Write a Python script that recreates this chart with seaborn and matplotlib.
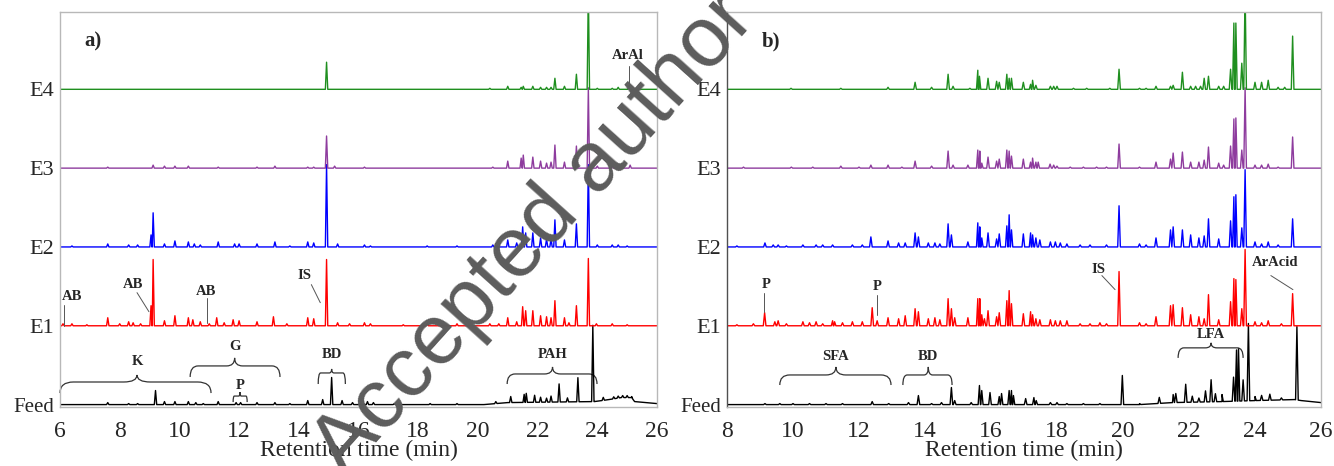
import numpy as np
import pandas as pd
import matplotlib
matplotlib.use("Agg")
import matplotlib.pyplot as plt
from matplotlib.path import Path
from matplotlib.patches import PathPatch
import seaborn as sns

# ---------------------------------------------------------------- data
trace_names = ["Feed", "E1", "E2", "E3", "E4"]
trace_colors = ["#000000", "#ff0000", "#0000ff", "#8e3c9e", "#1f8f1f"]

a_xticks = [6, 8, 10, 12, 14, 16, 18, 20, 22, 24, 26]
b_xticks = [8, 10, 12, 14, 16, 18, 20, 22, 24, 26]

# peaks: (retention time [min], height [a.u.]); one offset step = 78.5 a.u.
a_feed = [(7.6, 2), (8.3, 1), (8.6, 1), (9.2, 14), (9.5, 3), (9.85, 3), (10.3, 3), (10.55, 2),
          (10.8, 1), (11.3, 3), (11.9, 2), (12.05, 2), (12.6, 2), (13.2, 2), (13.7, 1), (14.3, 4),
          (14.8, 5), (15.1, 27), (15.45, 4), (15.8, 2), (16.3, 3), (16.5, 2), (17.2, 1), (18.4, 1),
          (19.3, 1), (20.6, 2), (21.1, 6), (21.55, 8), (21.62, 9), (21.9, 7), (22.1, 5), (22.3, 4),
          (22.45, 6), (22.72, 18), (23.0, 4), (23.35, 24), (23.85, 76), (24.2, 3), (24.55, 2),
          (24.7, 2), (24.85, 2), (25.0, 2), (25.15, 1)]
a_feed_base = [(6, 0), (20.2, 0), (21.0, 2), (23.9, 3), (24.4, 5), (24.8, 7), (25.15, 7),
               (25.25, 3), (26, 1)]
a_e1 = [(6.1, 2), (6.4, 2), (6.9, 1), (7.6, 8), (8.0, 2), (8.3, 4), (8.45, 3), (8.7, 2), (9.05, 20),
        (9.12, 66), (9.5, 5), (9.85, 10), (10.3, 8), (10.45, 6), (10.7, 4), (11.0, 2), (11.25, 8),
        (11.5, 3), (11.8, 6), (12.0, 5), (12.6, 4), (13.15, 9), (13.6, 2), (14.3, 8), (14.5, 7),
        (14.93, 66), (15.3, 3), (15.7, 2), (16.2, 3), (16.4, 2), (17.5, 1), (18.3, 2), (19.3, 2),
        (20.4, 2), (20.7, 2), (21.0, 8), (21.3, 4), (21.5, 19), (21.6, 15), (21.84, 15), (22.1, 10),
        (22.3, 9), (22.45, 8), (22.58, 25), (22.9, 8), (23.05, 3), (23.3, 20), (23.7, 67),
        (23.97, 2), (24.5, 2), (25.0, 1)]
a_e2 = [(6.4, 1), (7.6, 3), (8.3, 2), (8.6, 2), (9.05, 12), (9.12, 34), (9.5, 3), (9.85, 6),
        (10.3, 5), (10.5, 3), (10.7, 2), (11.3, 5), (11.85, 3), (12.0, 3), (12.6, 3), (13.2, 5),
        (13.7, 1), (14.3, 5), (14.5, 4), (14.93, 82), (15.3, 3), (16.2, 2), (16.4, 1), (18.3, 1),
        (19.3, 1), (20.5, 2), (21.0, 7), (21.3, 4), (21.5, 20), (21.6, 14), (21.84, 14), (22.1, 9),
        (22.3, 8), (22.45, 8), (22.58, 27), (22.9, 7), (23.3, 23), (23.7, 82), (24.0, 2),
        (24.5, 2), (24.7, 2), (25.0, 1)]
a_e3 = [(7.6, 1), (9.12, 3), (9.5, 2), (9.85, 2), (10.3, 2), (11.3, 1), (12.6, 1), (13.2, 2),
        (14.3, 1), (14.5, 1), (14.93, 32), (15.2, 2), (16.2, 1), (20.5, 1), (21.0, 7), (21.45, 10),
        (21.52, 13), (21.84, 11), (22.1, 7), (22.3, 5), (22.45, 6), (22.58, 23), (22.9, 6),
        (23.3, 22), (23.7, 80), (24.0, 2), (24.5, 2), (25.1, 3)]
a_e4 = [(14.93, 27), (20.4, 1), (21.0, 3), (21.45, 2), (21.52, 3), (21.84, 3), (22.1, 2), (22.3, 2),
        (22.45, 2), (22.58, 11), (22.9, 3), (23.3, 15), (23.7, 100), (24.0, 1), (24.5, 1),
        (24.7, 2), (25.06, 3)]

b_feed = [(9.15, 1), (9.6, 1), (10.0, 1), (10.5, 1), (11.0, 1), (11.5, 1), (12.4, 3), (12.9, 1),
          (13.5, 2), (13.8, 9), (14.2, 1), (14.5, 2), (14.8, 17), (14.9, 4), (15.4, 2), (15.65, 19),
          (15.72, 14), (15.97, 12), (16.25, 8), (16.32, 11), (16.55, 14), (16.62, 14), (16.68, 9),
          (17.05, 6), (17.3, 7), (17.37, 4), (17.8, 2), (18.0, 2), (18.3, 1), (18.8, 1), (19.3, 1),
          (19.98, 29), (20.5, 1), (21.1, 6), (21.52, 8), (21.6, 9), (21.9, 18), (22.1, 6),
          (22.3, 4), (22.5, 11), (22.67, 22), (22.8, 8), (23.0, 7), (23.35, 24), (23.44, 51),
          (23.5, 52), (23.64, 21), (23.8, 77), (24.0, 4), (24.2, 5), (24.45, 6), (24.8, 2),
          (25.27, 73)]
b_feed_base = [(8, 0), (20.5, 0), (21.5, 2), (23.0, 3), (24.0, 4), (25.2, 5), (25.4, 4), (26, 2)]
b_e1 = [(8.3, 1), (8.8, 2), (9.14, 13), (9.45, 4), (9.55, 5), (9.8, 2), (10.3, 4), (10.5, 3),
        (10.7, 4), (10.9, 2), (11.2, 5), (11.26, 4), (11.5, 3), (11.8, 4), (12.1, 4), (12.4, 18),
        (12.55, 5), (12.88, 8), (13.2, 7), (13.4, 10), (13.7, 17), (13.8, 14), (14.1, 7), (14.3, 8),
        (14.45, 6), (14.7, 27), (14.8, 17), (14.9, 8), (15.3, 8), (15.6, 27), (15.66, 27),
        (15.72, 11), (15.8, 7), (15.91, 15), (16.17, 9), (16.25, 13), (16.48, 25), (16.55, 35),
        (16.62, 22), (16.98, 12), (17.2, 14), (17.26, 11), (17.36, 7), (17.48, 6), (17.8, 6),
        (17.95, 5), (18.1, 5), (18.3, 5), (18.7, 2), (19.0, 2), (19.3, 3), (19.5, 2), (19.88, 54),
        (20.5, 3), (20.7, 2), (21.0, 9), (21.44, 20), (21.52, 21), (21.8, 18), (22.05, 11),
        (22.3, 9), (22.46, 7), (22.59, 31), (22.9, 6), (23.26, 24), (23.36, 47), (23.42, 46),
        (23.6, 17), (23.7, 76), (24.0, 4), (24.2, 3), (24.4, 5), (24.8, 2), (25.14, 32)]
b_e2 = [(8.3, 1), (9.15, 4), (9.4, 2), (9.55, 2), (9.8, 1), (10.3, 2), (10.7, 2), (10.9, 2),
        (11.2, 2), (11.8, 2), (12.1, 2), (12.36, 10), (12.88, 6), (13.2, 4), (13.4, 4), (13.7, 14),
        (13.8, 10), (14.1, 4), (14.3, 4), (14.45, 3), (14.7, 23), (14.8, 12), (15.3, 5), (15.6, 24),
        (15.66, 20), (15.72, 9), (15.91, 14), (16.17, 8), (16.25, 13), (16.48, 21), (16.55, 32),
        (16.62, 17), (16.98, 13), (17.2, 14), (17.26, 12), (17.36, 9), (17.48, 7), (17.8, 5),
        (17.95, 5), (18.1, 4), (18.3, 3), (18.7, 2), (19.0, 2), (19.5, 2), (19.88, 41), (20.5, 3),
        (20.7, 2), (21.0, 9), (21.44, 17), (21.52, 20), (21.8, 17), (22.05, 12), (22.3, 9),
        (22.46, 11), (22.59, 28), (22.9, 8), (23.26, 26), (23.36, 50), (23.42, 52), (23.6, 19),
        (23.7, 77), (24.0, 5), (24.2, 3), (24.4, 5), (24.7, 2), (25.14, 28)]
b_e3 = [(8.5, 1), (9.95, 1), (10.6, 1), (11.45, 2), (12.0, 1), (12.36, 3), (12.88, 3), (13.3, 1),
        (13.7, 7), (14.2, 2), (14.7, 17), (14.85, 3), (15.3, 3), (15.6, 18), (15.66, 17),
        (15.72, 5), (15.91, 11), (16.17, 7), (16.25, 9), (16.48, 18), (16.55, 17), (16.62, 12),
        (16.98, 9), (17.2, 6), (17.26, 10), (17.36, 6), (17.43, 6), (17.79, 4), (17.9, 3),
        (18.0, 2), (18.4, 1), (18.8, 1), (19.2, 1), (19.5, 1), (19.88, 24), (20.5, 1), (21.0, 6),
        (21.44, 9), (21.52, 15), (21.8, 16), (22.05, 6), (22.3, 6), (22.46, 8), (22.59, 21),
        (22.9, 5), (23.05, 3), (23.26, 22), (23.36, 49), (23.42, 50), (23.6, 18), (23.7, 80),
        (24.0, 3), (24.2, 3), (24.4, 4), (24.7, 1), (25.14, 31)]
b_e4 = [(9.94, 1), (11.45, 1), (12.88, 2), (13.7, 7), (14.2, 2), (14.7, 15), (14.85, 3),
        (15.36, 1), (15.6, 19), (15.65, 13), (15.91, 11), (16.17, 8), (16.25, 7), (16.48, 15),
        (16.55, 11), (16.62, 11), (16.98, 7), (17.2, 5), (17.26, 9), (17.36, 4), (17.8, 3),
        (17.9, 3), (18.0, 3), (18.5, 1), (18.9, 1), (19.6, 1), (19.88, 20), (20.5, 1), (20.7, 1),
        (21.0, 3), (21.44, 3), (21.52, 4), (21.8, 17), (22.05, 3), (22.2, 3), (22.35, 3),
        (22.46, 11), (22.59, 13), (22.9, 3), (23.05, 3), (23.26, 20), (23.36, 66), (23.42, 66),
        (23.6, 26), (23.7, 100), (24.0, 7), (24.2, 7), (24.4, 9), (24.7, 2), (24.9, 2), (25.14, 53)]

# braces: (label, t_start, t_end, t_tip, y_line, depth, tip, label_gap)
a_braces = [("K", 6.0, 11.06, 8.58, 22.5, 11, 7, 13), ("G", 10.36, 13.37, 11.85, 38.5, 11, 8, 11),
            ("P", 11.8, 12.27, 12.03, 8.5, 6, 4, 7), ("BD", 14.65, 15.56, 15.1, 31.5, 11, 4, 14),
            ("PAH", 20.98, 23.99, 22.5, 30.5, 10, 7, 12)]
b_braces = [("SFA", 9.6, 12.97, 11.3, 29.5, 10, 8, 10), ("BD", 13.33, 14.82, 14.1, 29.5, 10, 8, 10),
            ("LFA", 21.67, 23.64, 22.67, 56.5, 10, 5, 8)]
# labels with leader lines: (label, text_t, text_y, line_from, line_to)
a_labels = [("AB", 6.4, 107.5, (6.13, 99.5), (6.13, 78.5)),
            ("AB", 8.46, 119.5, (8.58, 111.5), (8.98, 92.5)),
            ("AB", 10.9, 112.5, (10.93, 106.5), (10.93, 81.5)),
            ("IS", 14.19, 128.5, (14.42, 119.5), (14.72, 101.5)),
            ("ArAl", 25.03, 347.5, (25.06, 337.5), (25.06, 316.5))]
b_labels = [("P", 9.18, 119.5, (9.13, 111.5), (9.13, 92.5)),
            ("P", 12.55, 117.5, (12.55, 109.5), (12.55, 89.5)),
            ("IS", 19.27, 134.5, (19.36, 128.5), (19.76, 114.5)),
            ("ArAcid", 24.6, 141.5, (24.48, 128.5), (25.15, 114.5))]

# ---------------------------------------------------------------- style
STEP = 78.5
HW = 0.04

sns.set_style("white")
plt.rcParams["font.family"] = ["Liberation Serif", "DejaVu Serif"]


def build(peaks, t0, t1, base=None):
    if base is None:
        base = [(t0, 0), (t1, 0)]
    bt = [p[0] for p in base]
    by = [p[1] for p in base]
    pts = list(base)
    for t, h in peaks:
        for tt, extra in ((t - HW, 0), (t, h), (t + HW, 0)):
            pts.append((tt, float(np.interp(tt, bt, by)) + extra))
    pts.sort(key=lambda p: p[0])
    return pts


def make_df(traces, t0, t1):
    rows = []
    for i, (name, peaks, base) in enumerate(traces):
        for t, y in build(peaks, t0, t1, base):
            rows.append((name, t, y + i * STEP))
    return pd.DataFrame(rows, columns=["trace", "t", "y"])


def brace(ax, x0, x1, xm, y, depth, tip, color="#333333"):
    r = min((xm - x0), (x1 - xm)) * 0.18
    verts = [(x0, y - depth), (x0, y), (x0 + r, y),
             (xm - r, y), (xm, y), (xm, y + tip),
             (xm, y), (xm + r, y),
             (x1 - r, y), (x1, y), (x1, y - depth)]
    codes = [Path.MOVETO, Path.CURVE3, Path.CURVE3,
             Path.LINETO, Path.CURVE3, Path.CURVE3,
             Path.CURVE3, Path.CURVE3,
             Path.LINETO, Path.CURVE3, Path.CURVE3]
    ax.add_patch(PathPatch(Path(verts, codes), fill=False, lw=0.9, ec=color, clip_on=False))


W, H = 1334, 466
fig = plt.figure(figsize=(W / 100, H / 100), dpi=100)
ax_a = fig.add_axes([60 / W, 1 - 407 / H, 597 / W, 395 / H])
ax_b = fig.add_axes([727 / W, 1 - 407 / H, 594 / W, 395 / H])

panels = [
    (ax_a, 6, 26, a_xticks, [(n, p, b) for n, p, b in zip(trace_names, [a_feed, a_e1, a_e2, a_e3, a_e4],
                                                          [a_feed_base, None, None, None, None])],
     a_braces, a_labels, "a)", 7.1),
    (ax_b, 8, 26, b_xticks, [(n, p, b) for n, p, b in zip(trace_names, [b_feed, b_e1, b_e2, b_e3, b_e4],
                                                          [b_feed_base, None, None, None, None])],
     b_braces, b_labels, "b)", 9.33),
]

for ax, t0, t1, xt, traces, braces, labels, tag, tag_t in panels:
    df = make_df(traces, t0, t1)
    sns.lineplot(data=df, x="t", y="y", hue="trace", hue_order=trace_names,
                 palette=dict(zip(trace_names, trace_colors)), estimator=None, sort=False,
                 legend=False, linewidth=1.0, ax=ax)
    ax.set_xlim(t0, t1)
    ax.set_ylim(-2.4, 391)
    ax.set_xticks(xt)
    ax.set_xticklabels([str(v) for v in xt], fontsize=17)
    ax.set_yticks([i * STEP for i in range(5)])
    ax.set_yticklabels(trace_names, fontsize=16)
    ax.get_yticklabels()[0].set_fontsize(15)
    ax.tick_params(axis="x", length=0, pad=10)
    ax.tick_params(axis="y", length=0, pad=4)
    ax.set_xlabel("Retention time (min)", fontsize=17, labelpad=-1.5)
    ax.set_ylabel("")
    for s in ax.spines.values():
        s.set_color("#b8b8b8")
        s.set_linewidth(1.0)
    ax.text(tag_t, 361.5, tag, fontsize=15, fontweight="bold", ha="center", va="center")
    for lab, x0, x1, xm, y, depth, tip, gap in braces:
        brace(ax, x0, x1, xm, y, depth, tip)
        ax.text(xm, y + tip + gap, lab, fontsize=10.5, fontweight="bold", ha="center", va="center")
    for lab, tx, ty, p0, p1 in labels:
        ax.text(tx, ty, lab, fontsize=10.5, fontweight="bold", ha="center", va="center")
        ax.plot([p0[0], p1[0]], [p0[1], p1[1]], color="#555555", lw=0.7)

ax_b.spines["left"].set_color("#505050")

fig.text(345 / W, 1 - 478 / H, "Accepted author manuscript", rotation=48, rotation_mode="anchor",
         ha="left", va="baseline", fontsize=61, color="#5c5c5c", family="Liberation Sans", zorder=10)

fig.savefig("out.png", dpi=100)
